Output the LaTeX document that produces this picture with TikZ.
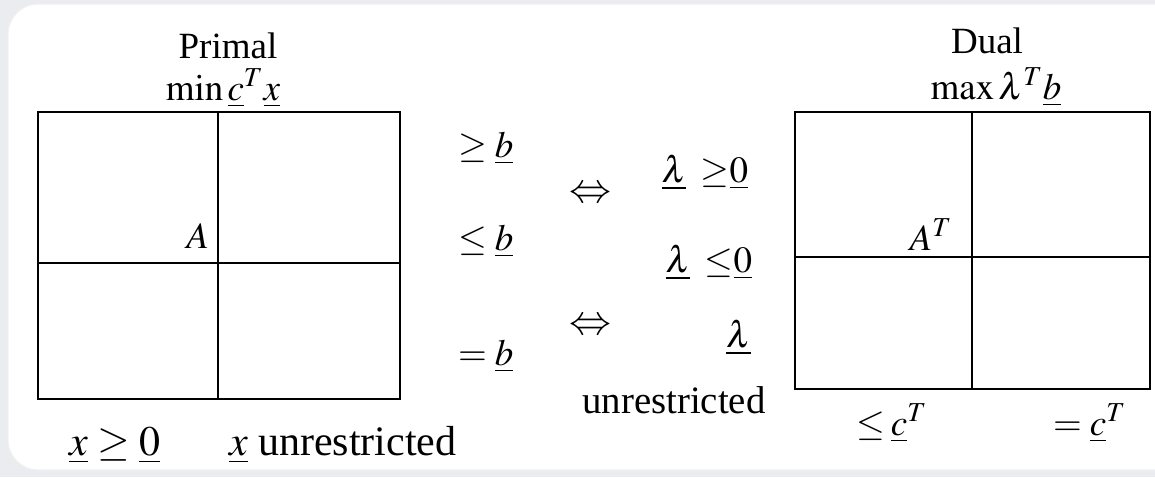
\documentclass[tikz,border=0pt]{standalone}
\usepackage{mathptmx}
\usepackage{fontspec}
\setmainfont{Liberation Serif}
\definecolor{pagebg}{RGB}{234,236,239}
\tikzset{every picture/.style={line width=1pt},
  lbl/.style={inner sep=0pt, font=\fontsize{18.5}{22}\selectfont},
  biglbl/.style={lbl, font=\fontsize{21}{25}\selectfont},
  panel/.style={fill=white, draw=black!6, line width=0.6pt, rounded corners=15pt}}

\begin{document}
\begin{tikzpicture}[x=0.5pt, y=-0.5pt]
    \useasboundingbox[fill=pagebg] (0,0) rectangle (1155,477);
    \path[panel] (8,4) rectangle (1190,470);

    \coordinate (ptl) at (38,112);
    \coordinate (pbr) at (400,399);
    \coordinate (pc) at (218,263);
    \coordinate (dtl) at (795,112);
    \coordinate (dbr) at (1150,389);
    \coordinate (dc) at (972,257);

    \draw (ptl) rectangle (pbr);
    \draw (pc |- ptl) -- (pc |- pbr);
    \draw (ptl |- pc) -- (pbr |- pc);
    \draw (dtl) rectangle (dbr);
    \draw (dc |- dtl) -- (dc |- dbr);
    \draw (dtl |- dc) -- (dbr |- dc);

    \node[lbl, anchor=base] (primal) at (228,58) {Primal};
    \node[lbl, anchor=base] (minobj) at (223,100) {$\min\underline{c}^T\underline{x}$};
    \node[lbl, anchor=base east] (amat) at (210,248) {$A$};
    \node[biglbl, anchor=base west] (xpos) at (68,455) {$\underline{x}\geq\underline{0}$};
    \node[biglbl, anchor=base west] (xfree) at (228,455) {$\underline{x}$ unrestricted};

    \node[lbl, anchor=base west] (geb) at (457,157) {$\geq\underline{b}$};
    \node[lbl, anchor=base west] (leb) at (457,250) {$\leq\underline{b}$};
    \node[lbl, anchor=base west] (eqb) at (457,365) {$=\underline{b}$};

    \node[biglbl] (iffa) at (590,195) {$\Leftrightarrow$};
    \node[biglbl] (iffb) at (590,327) {$\Leftrightarrow$};

    \node[lbl, anchor=base east] (lampos) at (749,182) {$\underline{\lambda}\mkern7mu{\geq}\underline{0}$};
    \node[lbl, anchor=base east] (lamneg) at (753,272) {$\underline{\lambda}\mkern7mu{\leq}\underline{0}$};
    \node[lbl, anchor=base east] (lamfree) at (752,347) {$\underline{\lambda}$};
    \node[lbl, anchor=base, font=\fontsize{19.4}{23}\selectfont] (unres) at (674,413) {unrestricted};

    \node[lbl, anchor=base] (dual) at (987,53) {Dual};
    \node[lbl, anchor=base] (maxobj) at (996,99) {$\max\lambda^T\underline{b}$};
    \node[lbl, anchor=base east] (atmat) at (953,250) {$A^T$};
    \node[lbl, anchor=base west] (lec) at (855,435) {${\leq}\mkern3mu\underline{c}^T$};
    \node[lbl, anchor=base west] (eqc) at (1052,435) {${=}\mkern4mu\underline{c}^T$};
\end{tikzpicture}
\end{document}
